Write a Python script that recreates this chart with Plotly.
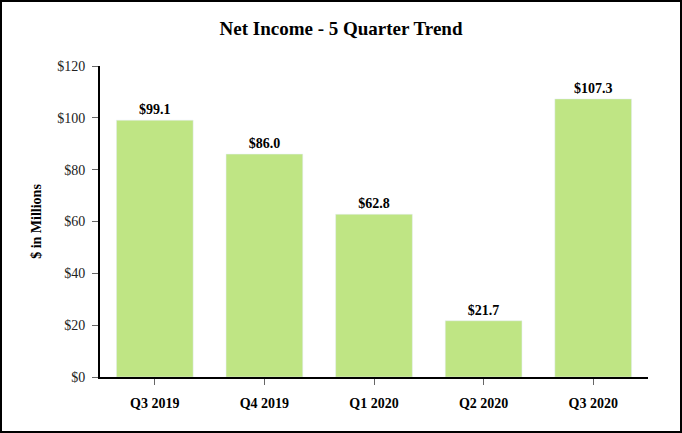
import plotly.graph_objects as go

quarters = ['Q3 2019', 'Q4 2019', 'Q1 2020', 'Q2 2020', 'Q3 2020']
net_income = [99.1, 86.0, 62.8, 21.7, 107.3]
bar_labels = ['$99.1', '$86.0', '$62.8', '$21.7', '$107.3']

W, H = 682, 433
ml, mr, mt, mb = 100, 34, 66, 56
pw, ph = W - ml - mr, H - mt - mb

fig = go.Figure(go.Bar(
    x=quarters, y=net_income,
    marker_color='#BFE584',
    text=bar_labels, textposition='outside',
    textfont=dict(family='Liberation Serif', size=14, color='#000000'),
    texttemplate='<b>%{text}</b>',
    cliponaxis=False,
))

fig.update_layout(
    width=W, height=H,
    margin=dict(l=ml, r=mr, t=mt, b=mb),
    plot_bgcolor='white', paper_bgcolor='white',
    font=dict(family='Liberation Serif', color='#000000'),
    bargap=0.3,
    showlegend=False,
    title=dict(text='<b>Net Income - 5 Quarter Trend</b>', x=0.5, xanchor='center',
               y=1 - 28 / H, yanchor='middle', font=dict(size=19)),
)

fig.update_xaxes(
    showline=True, linecolor='black', linewidth=2,
    ticks='outside', ticklen=6, tickcolor='#666666',
    tickfont=dict(size=14), ticklabelstandoff=6,
    tickvals=quarters, ticktext=['<b>' + q + '</b>' for q in quarters],
)
fig.update_yaxes(
    range=[0, 120], dtick=20, tickprefix='$',
    showline=True, linecolor='black', linewidth=2,
    ticks='outside', ticklen=6, tickcolor='#666666',
    showgrid=False, zeroline=False,
    tickfont=dict(size=14, color='#222222'), ticklabelstandoff=4,
    title=dict(text='<b>$ in Millions</b>', font=dict(size=14), standoff=12),
)

# frame around the whole picture
fig.add_shape(type='rect', xref='paper', yref='paper',
              x0=-(ml - 1) / pw, x1=1 + (mr - 1) / pw,
              y0=-(mb - 1) / ph, y1=1 + (mt - 1) / ph,
              line=dict(color='black', width=2), fillcolor='rgba(0,0,0,0)')

fig.write_html("out.html", config={'displayModeBar': False},
               post_script="document.body.style.margin='0';")
